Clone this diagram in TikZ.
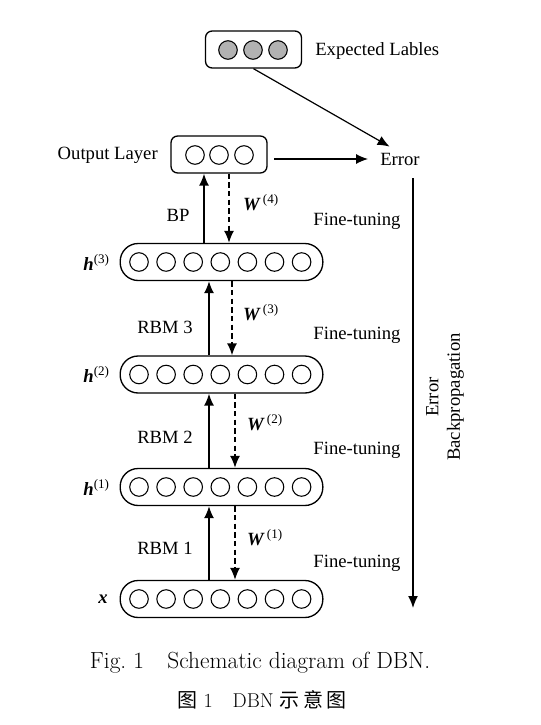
\documentclass[tikz,border=0pt]{standalone}
\usepackage{fontspec}
\usetikzlibrary{arrows.meta}
\newfontfamily\timesfont{Liberation Serif}
\newfontfamily\cjk{Noto Sans CJK SC}
\tikzset{>={Latex[length=9pt,width=7.5pt]}}
\tikzset{
  unit/.style={circle, draw, line width=0.8pt, minimum size=13.9pt, inner sep=0pt},
  layer/.style={draw, line width=1pt, rounded corners=13.5pt, minimum width=152pt, minimum height=27.75pt},
  outbox/.style={draw, line width=1pt, rounded corners=5pt, minimum width=72pt, minimum height=27.75pt},
  lbl/.style={font=\timesfont\fontsize{14}{16}\selectfont, inner sep=0pt},
  up/.style={->, line width=1.1pt},
  down/.style={->, line width=1.1pt, dash pattern=on 4pt off 2.5pt}
}
\newcommand{\bi}[1]{\textbf{\textit{#1}}}

\begin{document}
\begin{tikzpicture}[x=0.75pt, y=-0.75pt]
\useasboundingbox (0,0) rectangle (540,725);
% boxes
\node[outbox] (exp) at (253.5,49.5) {};
\node[outbox] (out) at (219,154.5) {};
\foreach \i/\xx in {1/228,2/253,3/278} \node[unit, fill=black!30] (e\i) at (\xx,50) {};
\foreach \i/\xx in {1/195,2/219,3/244} \node[unit] (o\i) at (\xx,155) {};
\foreach \name/\yy in {h3/262, h2/374.5, h1/487, x/599}{
  \node[layer] (\name) at (221.5,\yy) {};
  \foreach \k in {0,...,6} \node[unit] (\name-\k) at ({139+27.1*\k},\yy) {};
}
% texts
\node[lbl, anchor=west] (explbl) at (315,51) {Expected Lables};
\node[lbl, anchor=east] (outlbl) at (158,155) {Output Layer};
\node[lbl] (err) at (400,159) {Error};
\node[lbl, anchor=east] (lh3) at (110,262) {\bi{h}\textsuperscript{(3)}};
\node[lbl, anchor=east] (lh2) at (110,374.5) {\bi{h}\textsuperscript{(2)}};
\node[lbl, anchor=east] (lh1) at (110,487) {\bi{h}\textsuperscript{(1)}};
\node[lbl, anchor=east] (lx) at (108,599) {\bi{x}};
\node[lbl] (bp) at (178,215) {BP};
\node[lbl] (rbm3) at (165,327) {RBM 3};
\node[lbl] (rbm2) at (165,437) {RBM 2};
\node[lbl] (rbm1) at (165,548) {RBM 1};
\node[lbl] (w4) at (261,203) {\bi{W}\textsuperscript{\,(4)}};
\node[lbl] (w3) at (261,313) {\bi{W}\textsuperscript{\,(3)}};
\node[lbl] (w2) at (265,423) {\bi{W}\textsuperscript{\,(2)}};
\node[lbl] (w1) at (265,538) {\bi{W}\textsuperscript{\,(1)}};
\foreach \i/\yy in {4/221,3/335,2/450,1/563} \node[lbl] (ft\i) at (357,\yy) {Fine-tuning};
\node[lbl, rotate=90, align=center] (ebp) at (445,397) {Error\\Backpropagation};
% arrows
\draw[->, line width=0.9pt, shorten >=9pt] (exp.south) -- (err.north);
\draw[->, line width=0.9pt, shorten <=5pt, shorten >=9pt] (out.east |- err.west) -- (err.west);
\coordinate (bt) at (413,178);
\coordinate (bb) at (413,608);
\draw[->, line width=1.1pt] (bt) -- (bb);
\draw[up] (h3.north -| 204,0) -- (out.south -| 204,0);
\draw[down] (out.south -| 229,0) -- (h3.north -| 229,0);
\draw[up] (h2.north -| 209,0) -- (h3.south -| 209,0);
\draw[down] (h3.south -| 232,0) -- (h2.north -| 232,0);
\draw[up] (h1.north -| 209,0) -- (h2.south -| 209,0);
\draw[down] (h2.south -| 235,0) -- (h1.north -| 235,0);
\draw[up] (x.north -| 209,0) -- (h1.south -| 209,0);
\draw[down] (h1.south -| 235,0) -- (x.north -| 235,0);
% caption
\node[font=\fontsize{17.5}{20}\selectfont] (cap) at (260,663) {Fig.~1\quad Schematic diagram of DBN.};
\node[font=\fontsize{15}{18}\selectfont] (capzh) at (262,700) {{\cjk 图}~1\quad DBN {\cjk 示\,意\,图}};
\end{tikzpicture}
\end{document}
